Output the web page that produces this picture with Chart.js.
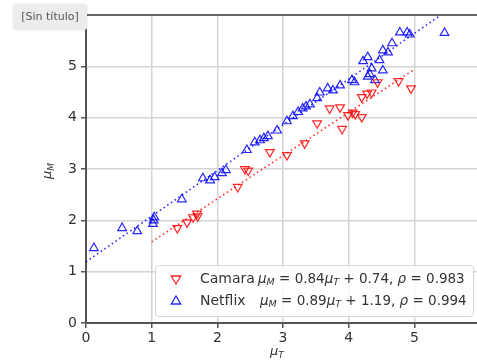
<!DOCTYPE html>
<html>
<head>
<meta charset="utf-8">
<script src="https://cdn.jsdelivr.net/npm/chart.js@4.4.1/dist/chart.umd.min.js"></script>
<style>
  body { margin: 0; background: #fff; overflow: hidden; }
  #wrap { position: relative; width: 477px; height: 364px; overflow: hidden; }
  #tag {
    position: absolute; left: 13px; top: 4px; width: 74px; height: 26px;
    background: #ececec; border-radius: 3px; color: #555;
    font: 11px "DejaVu Sans", sans-serif; line-height: 26px; text-align: center;
    box-shadow: 0 0 2px rgba(0,0,0,0.15);
  }
</style>
</head>
<body>
<div id="wrap">
  <canvas id="chart" width="500" height="364"></canvas>
  <div id="tag">[Sin título]</div>
</div>
<script>
// Netflix (blue, up triangles)
const netflixX = [0.12, 0.55, 0.78, 1.02, 1.03, 1.04, 1.46, 1.78, 1.89, 1.96, 2.07, 2.13,
  2.45, 2.57, 2.65, 2.71, 2.77, 2.91, 3.06, 3.15, 3.23, 3.30, 3.35, 3.41, 3.52, 3.56,
  3.68, 3.76, 3.87, 4.05, 4.09, 4.22, 4.29, 4.35, 4.47, 4.52, 4.60, 4.66, 4.78, 4.89,
  4.93, 5.46, 4.32, 4.40, 4.52, 4.29];
const netflixY = [1.46, 1.85, 1.79, 1.93, 2.00, 2.06, 2.41, 2.82, 2.78, 2.84, 2.92, 2.98,
  3.37, 3.52, 3.56, 3.60, 3.64, 3.75, 3.93, 4.03, 4.11, 4.18, 4.22, 4.26, 4.38, 4.49,
  4.57, 4.53, 4.63, 4.73, 4.69, 5.10, 5.18, 4.96, 5.12, 5.31, 5.27, 5.45, 5.66, 5.66,
  5.62, 5.65, 4.85, 4.73, 4.92, 4.80];

// Camara (red, down triangles)
const camaraX = [1.39, 1.54, 1.63, 1.69, 1.70, 2.31, 2.42, 2.47, 2.80, 3.06, 3.33, 3.52,
  3.71, 3.87, 3.90, 3.99, 4.06, 4.10, 4.20, 4.20, 4.28, 4.35, 4.44, 4.76, 4.95];
const camaraY = [1.85, 1.96, 2.06, 2.13, 2.08, 2.65, 3.00, 2.97, 3.33, 3.27, 3.50, 3.89,
  4.18, 4.20, 3.78, 4.05, 4.10, 4.07, 4.01, 4.40, 4.47, 4.49, 4.69, 4.71, 4.57];

// fitted lines (end points)
const netflixFitX = [0, 5.46];
const netflixFitY = [1.19, 6.05];
const camaraFitX = [1.0, 5.0];
const camaraFitY = [1.58, 4.94];

const xTicks = [0, 1, 2, 3, 4, 5, 6];
const yTicks = [0, 1, 2, 3, 4, 5, 6];

const RED = "rgba(255, 0, 0, 0.85)";
const BLUE = "rgba(0, 0, 255, 0.85)";
const FONT = '"DejaVu Sans", sans-serif';

function pts(xs, ys) {
    return xs.map((x, i) => ({ x: x, y: ys[i] }));
}

function drawTri(ctx, x, y, r, down, color) {
    ctx.save();
    ctx.strokeStyle = color;
    ctx.lineWidth = 1.3;
    ctx.beginPath();
    const s = down ? -1 : 1;
    ctx.moveTo(x, y - s * r);
    ctx.lineTo(x - r * 0.95, y + s * r * 0.6);
    ctx.lineTo(x + r * 0.95, y + s * r * 0.6);
    ctx.closePath();
    ctx.stroke();
    ctx.restore();
}

// draw a run of text segments, with italic / subscript parts
function drawRich(ctx, segs, x, y, size) {
    let cx = x;
    segs.forEach(s => {
        const fs = s.sub ? size * 0.7 : size;
        ctx.font = (s.it ? "italic " : "") + fs + "px " + FONT;
        ctx.fillText(s.t, cx, s.sub ? y + size * 0.25 : y);
        cx += ctx.measureText(s.t).width;
    });
    return cx;
}

const extras = {
    id: "extras",
    afterDraw(chart) {
        const ctx = chart.ctx;
        const a = chart.chartArea;
        ctx.save();
        // top spine
        ctx.strokeStyle = "#666";
        ctx.lineWidth = 2;
        ctx.beginPath();
        ctx.moveTo(a.left, a.top);
        ctx.lineTo(a.right, a.top);
        ctx.stroke();

        ctx.fillStyle = "#333";
        ctx.textBaseline = "middle";
        // axis titles
        ctx.textAlign = "left";
        drawRich(ctx, [{ t: "μ", it: true }, { t: "T", it: true, sub: true }], 270, 352, 13);
        ctx.save();
        ctx.translate(48, 170);
        ctx.rotate(-Math.PI / 2);
        drawRich(ctx, [{ t: "μ", it: true }, { t: "M", it: true, sub: true }], -9, 0, 13);
        ctx.restore();

        // legend
        const lx = 155, ly = 265, lw = 318, lh = 51;
        ctx.fillStyle = "rgba(255,255,255,0.85)";
        ctx.strokeStyle = "#d6d6d6";
        ctx.lineWidth = 1;
        ctx.beginPath();
        ctx.roundRect(lx + 0.5, ly + 0.5, lw, lh, 3);
        ctx.fill();
        ctx.stroke();

        drawTri(ctx, 176, 279, 5, true, RED);
        drawTri(ctx, 176, 301, 5, false, BLUE);
        ctx.fillStyle = "#333";
        ctx.font = "14px " + FONT;
        ctx.fillText("Camara", 200, 279);
        ctx.fillText("Netflix", 200, 301);
        drawRich(ctx, [
            { t: "μ", it: true }, { t: "M", it: true, sub: true }, { t: " = 0.84" },
            { t: "μ", it: true }, { t: "T", it: true, sub: true }, { t: " + 0.74, " },
            { t: "ρ", it: true }, { t: " = 0.983" }
        ], 258, 279, 13.5);
        drawRich(ctx, [
            { t: "μ", it: true }, { t: "M", it: true, sub: true }, { t: " = 0.89" },
            { t: "μ", it: true }, { t: "T", it: true, sub: true }, { t: " + 1.19, " },
            { t: "ρ", it: true }, { t: " = 0.994" }
        ], 260, 301, 13.5);
        ctx.restore();
    }
};

new Chart(document.getElementById("chart"), {
    type: "scatter",
    data: {
        datasets: [
            {
                label: "Camara fit",
                data: pts(camaraFitX, camaraFitY),
                showLine: true,
                pointRadius: 0,
                borderColor: RED,
                borderWidth: 1.6,
                borderDash: [1.5, 3],
            },
            {
                label: "Netflix fit",
                data: pts(netflixFitX, netflixFitY),
                showLine: true,
                pointRadius: 0,
                borderColor: BLUE,
                borderWidth: 1.6,
                borderDash: [1.5, 3],
            },
            {
                label: "Camara",
                data: pts(camaraX, camaraY),
                pointStyle: "triangle",
                rotation: 180,
                pointRadius: 5,
                borderWidth: 1.2,
                borderColor: RED,
                backgroundColor: "rgba(0,0,0,0)",
            },
            {
                label: "Netflix",
                data: pts(netflixX, netflixY),
                pointStyle: "triangle",
                pointRadius: 5,
                borderWidth: 1.2,
                borderColor: BLUE,
                backgroundColor: "rgba(0,0,0,0)",
            },
        ],
    },
    options: {
        responsive: false,
        animation: false,
        clip: 0,
        layout: { padding: { top: 15, right: 20, left: 0, bottom: 0 } },
        plugins: {
            legend: { display: false },
            tooltip: { enabled: false },
        },
        scales: {
            x: {
                type: "linear",
                min: 0,
                max: 6,
                afterBuildTicks: (axis) => { axis.ticks = xTicks.map(v => ({ value: v })); },
                afterFit: (axis) => { axis.height = 41; },
                grid: { color: "#d4d4d4", lineWidth: 1.5, tickLength: 5, tickColor: "#555" },
                border: { color: "#555", width: 2 },
                ticks: {
                    color: "#333",
                    font: { family: FONT, size: 14 },
                    padding: 2,
                    callback: (v) => (v === 6 ? "" : v),
                },
            },
            y: {
                type: "linear",
                min: 0,
                max: 6,
                afterBuildTicks: (axis) => { axis.ticks = yTicks.map(v => ({ value: v })); },
                afterFit: (axis) => { axis.width = 86; },
                grid: { color: "#d4d4d4", lineWidth: 1.5, tickLength: 5, tickColor: "#555" },
                border: { color: "#555", width: 2 },
                ticks: {
                    color: "#333",
                    font: { family: FONT, size: 14 },
                    padding: 4,
                    callback: (v) => (v === 6 ? "" : v),
                },
            },
        },
    },
    plugins: [extras],
});
</script>
</body>
</html>
